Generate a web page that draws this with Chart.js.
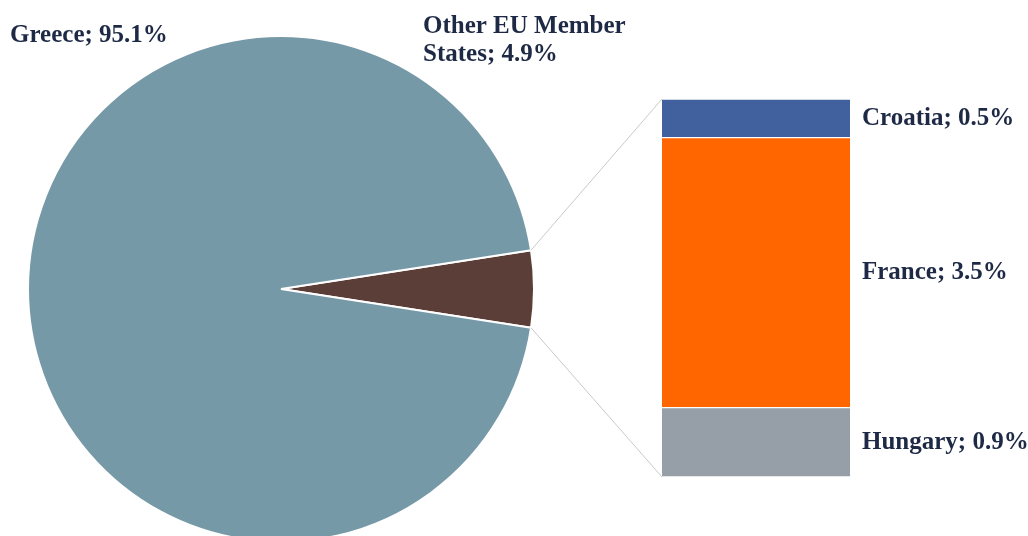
<!DOCTYPE html>
<html>
<head>
<meta charset="utf-8">
<script src="https://cdn.jsdelivr.net/npm/chart.js@4"></script>
<style>
  html, body { margin: 0; padding: 0; background: #fff; }
  body { width: 1028px; height: 536px; overflow: hidden; position: relative; }
  canvas { position: absolute; }
  #pieChart { left: 27px; top: 35px; }
  #barChart { left: 662px; top: 99px; }
  #links { left: 0; top: 0; pointer-events: none; }
</style>
</head>
<body>
<canvas id="pieChart" width="508" height="508"></canvas>
<canvas id="barChart" width="188" height="378"></canvas>
<canvas id="links" width="1028" height="536"></canvas>
<script>
// pie: small slice first so it can be turned to face the bar
const pieLabels = ['Other EU Member States', 'Greece'];
const pieValues = [4.9, 95.1];
const pieColors = ['#5b3e38', '#7699a8'];

// stacked bar, bottom to top
const barLabels = ['Hungary', 'France', 'Croatia'];
const barValues = [0.9, 3.5, 0.5];
const barColors = ['#969fa8', '#ff6600', '#40609e'];

const textColor = '#1e2a45';
const labelFont = 'bold 25px "Liberation Serif", "Times New Roman", serif';

const PIE_LEFT = 27, PIE_TOP = 35;
const BAR_LEFT = 662, BAR_TOP = 99;

const pieTotal = pieValues.reduce((a, b) => a + b, 0);
const barTotal = barValues.reduce((a, b) => a + b, 0);

const pie = new Chart(document.getElementById('pieChart'), {
  type: 'pie',
  data: {
    labels: pieLabels,
    datasets: [{
      data: pieValues,
      backgroundColor: pieColors,
      borderColor: '#ffffff',
      borderWidth: 2
    }]
  },
  options: {
    responsive: false,
    animation: false,
    devicePixelRatio: 1,
    rotation: 90 - pieValues[0] / pieTotal * 180,
    layout: { padding: 0 },
    plugins: { legend: { display: false }, tooltip: { enabled: false } }
  }
});

const bar = new Chart(document.getElementById('barChart'), {
  type: 'bar',
  data: {
    labels: ['Other EU Member States'],
    datasets: barLabels.map((name, i) => ({
      label: name,
      data: [barValues[i]],
      backgroundColor: barColors[i],
      borderColor: '#ffffff',
      borderWidth: { top: 1, bottom: 1, left: 0, right: 0 },
      borderSkipped: false,
      barPercentage: 1,
      categoryPercentage: 1
    }))
  },
  options: {
    responsive: false,
    animation: false,
    devicePixelRatio: 1,
    layout: { padding: 0 },
    scales: {
      x: { stacked: true, display: false },
      y: { stacked: true, display: false, min: 0, max: barTotal }
    },
    plugins: { legend: { display: false }, tooltip: { enabled: false } }
  }
});

function wrap(ctx, text, maxWidth) {
  const words = text.split(' ');
  const lines = [];
  let line = '';
  words.forEach(w => {
    const test = line ? line + ' ' + w : w;
    if (ctx.measureText(test).width > maxWidth && line) {
      lines.push(line);
      line = w;
    } else {
      line = test;
    }
  });
  lines.push(line);
  return lines;
}

function drawLinks() {
  const ctx = document.getElementById('links').getContext('2d');
  ctx.clearRect(0, 0, 1028, 536);

  // connector lines from the small slice to the bar ends
  const arc = pie.getDatasetMeta(0).data[0];
  const r = arc.outerRadius;
  const topBar = bar.getDatasetMeta(barValues.length - 1).data[0];
  const bottomBar = bar.getDatasetMeta(0).data[0];

  ctx.strokeStyle = '#c9c9c9';
  ctx.lineWidth = 1;
  ctx.beginPath();
  ctx.moveTo(PIE_LEFT + arc.x + r * Math.cos(arc.startAngle), PIE_TOP + arc.y + r * Math.sin(arc.startAngle));
  ctx.lineTo(BAR_LEFT + topBar.x - topBar.width / 2, BAR_TOP + topBar.y);
  ctx.moveTo(PIE_LEFT + arc.x + r * Math.cos(arc.endAngle), PIE_TOP + arc.y + r * Math.sin(arc.endAngle));
  ctx.lineTo(BAR_LEFT + bottomBar.x - bottomBar.width / 2, BAR_TOP + bottomBar.base);
  ctx.stroke();

  ctx.fillStyle = textColor;
  ctx.font = labelFont;
  ctx.textAlign = 'left';

  // pie labels
  ctx.textBaseline = 'alphabetic';
  ctx.fillText(`${pieLabels[1]}; ${pieValues[1]}%`, 10, 42);
  wrap(ctx, `${pieLabels[0]}; ${pieValues[0]}%`, 215).forEach((line, i) => {
    ctx.fillText(line, 423, 33 + i * 28);
  });

  // bar labels, beside each segment
  ctx.textBaseline = 'middle';
  barLabels.forEach((name, i) => {
    const el = bar.getDatasetMeta(i).data[0];
    const y = BAR_TOP + (el.y + el.base) / 2;
    ctx.fillText(`${name}; ${barValues[i]}%`, BAR_LEFT + el.x + el.width / 2 + 12, y);
  });
}

drawLinks();
</script>
</body>
</html>
